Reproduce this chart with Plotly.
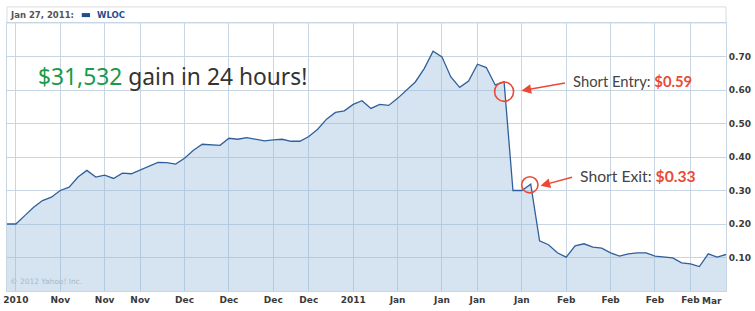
import plotly.graph_objects as go

# ---- data (trading days, WLOC close) ----
dates = [
    "2010-11-05", "2010-11-08", "2010-11-09", "2010-11-10", "2010-11-11", "2010-11-12",
    "2010-11-15", "2010-11-16", "2010-11-17", "2010-11-18", "2010-11-19",
    "2010-11-22", "2010-11-23", "2010-11-24", "2010-11-26",
    "2010-11-29", "2010-11-30", "2010-12-01", "2010-12-02", "2010-12-03",
    "2010-12-06", "2010-12-07", "2010-12-08", "2010-12-09", "2010-12-10",
    "2010-12-13", "2010-12-14", "2010-12-15", "2010-12-16", "2010-12-17",
    "2010-12-20", "2010-12-21", "2010-12-22", "2010-12-23",
    "2010-12-27", "2010-12-28", "2010-12-29", "2010-12-30", "2010-12-31",
    "2011-01-03", "2011-01-04", "2011-01-05", "2011-01-06", "2011-01-07",
    "2011-01-10", "2011-01-11", "2011-01-12", "2011-01-13", "2011-01-14",
    "2011-01-18", "2011-01-19", "2011-01-20", "2011-01-21",
    "2011-01-24", "2011-01-25", "2011-01-26", "2011-01-27", "2011-01-28",
    "2011-01-31", "2011-02-01", "2011-02-02", "2011-02-03", "2011-02-04",
    "2011-02-07", "2011-02-08", "2011-02-09", "2011-02-10", "2011-02-11",
    "2011-02-14", "2011-02-15", "2011-02-16", "2011-02-17", "2011-02-18",
    "2011-02-22", "2011-02-23", "2011-02-24", "2011-02-25",
    "2011-02-28", "2011-03-01", "2011-03-02", "2011-03-03", "2011-03-04",
]
prices = [
    0.200, 0.200, 0.225, 0.250, 0.270, 0.280,
    0.300, 0.310, 0.340, 0.360, 0.340,
    0.346, 0.336, 0.352, 0.350,
    0.362, 0.374, 0.384, 0.383, 0.379,
    0.396, 0.420, 0.438, 0.436, 0.435,
    0.456, 0.453, 0.458, 0.453, 0.448,
    0.451, 0.453, 0.447, 0.447,
    0.461, 0.483, 0.513, 0.533, 0.538,
    0.557, 0.568, 0.545, 0.557, 0.554,
    0.575, 0.600, 0.624, 0.664, 0.716,
    0.699, 0.639, 0.608, 0.627,
    0.677, 0.667, 0.615, 0.624, 0.300,
    0.300, 0.319, 0.150, 0.138, 0.114,
    0.101, 0.135, 0.141, 0.131, 0.128,
    0.114, 0.104, 0.111, 0.114, 0.114,
    0.104, 0.102, 0.099, 0.084,
    0.081, 0.073, 0.111, 0.101, 0.109,
]
tick_dates = [
    "2010-11-08", "2010-11-15", "2010-11-22", "2010-11-29", "2010-12-06",
    "2010-12-13", "2010-12-20", "2010-12-27", "2011-01-03", "2011-01-10",
    "2011-01-18", "2011-01-24", "2011-01-31", "2011-02-07", "2011-02-14",
    "2011-02-22", "2011-02-28",
]
tick_text = ["2010", "Nov", "Nov", "Nov", "Dec", "Dec", "Dec", "Dec", "2011",
             "Jan", "Jan", "Jan", "Jan", "Feb", "Feb", "Feb", "Feb"]
y_ticks = [0.1, 0.2, 0.3, 0.4, 0.5, 0.6, 0.7]

entry_date, entry_price = "2011-01-27", 0.595
exit_date, exit_price = "2011-02-01", 0.317

GRID = "#c8d6e3"
LINE = "#2f609a"
FILL = "rgba(150,187,217,0.4)"
RED = "#ea4a35"
AXFONT = dict(family="DejaVu Sans", size=9, color="#3a3a3a")

fig = go.Figure()
fig.add_trace(go.Scatter(
    x=dates, y=prices, mode="lines", fill="tozeroy",
    line=dict(color=LINE, width=1.3), fillcolor=FILL,
    hoverinfo="skip", showlegend=False,
))

idx = {d: i for i, d in enumerate(dates)}
ei, xi = idx[entry_date], idx[exit_date] - 0.1

shapes = [
    # header strip
    dict(type="rect", xref="paper", yref="paper", x0=0, x1=1, y0=1, y1=1.06,
         line=dict(color="#dcdcdc", width=1), fillcolor="white", layer="below"),
    # legend swatch
    dict(type="rect", xref="paper", yref="paper", x0=0.104, x1=0.1155,
         y0=1.022, y1=1.037, line=dict(width=0), fillcolor="#1f4f8e"),
    # circles
    dict(type="circle", xref="x", yref="y", x0=ei - 1.07, x1=ei + 1.07,
         y0=entry_price - 0.029, y1=entry_price + 0.029,
         line=dict(color=RED, width=1.6)),
    dict(type="circle", xref="x", yref="y", x0=xi - 0.92, x1=xi + 0.92,
         y0=exit_price - 0.024, y1=exit_price + 0.024,
         line=dict(color=RED, width=1.6)),
]

annotations = [
    dict(xref="paper", yref="paper", x=0.0015, y=1.031, xanchor="left", yanchor="middle",
         text="<b>Jan 27, 2011:</b>", showarrow=False,
         font=dict(family="DejaVu Sans", size=8.5, color="#555555")),
    dict(xref="paper", yref="paper", x=0.122, y=1.031, xanchor="left", yanchor="middle",
         text="<b>WLOC</b>", showarrow=False,
         font=dict(family="DejaVu Sans", size=8.5, color="#1f4f8e")),
    dict(xref="paper", yref="paper", x=0.002, y=0.012, xanchor="left", yanchor="bottom",
         text="© 2012 Yahoo! Inc.", showarrow=False,
         font=dict(family="DejaVu Sans", size=7.5, color="#aab8c4")),
    dict(xref="x", yref="paper", x=79.4, y=0, xanchor="center", yanchor="top", yshift=-3,
         text="<b>Mar</b>", showarrow=False, font=AXFONT),
    dict(xref="paper", yref="paper", x=0.040, y=0.80, xanchor="left", yanchor="middle",
         text="<span style='color:#1a9a4b'>$31,532</span> gain in 24 hours!",
         showarrow=False, font=dict(family="Noto Sans", size=22.8, color="#333333")),
    dict(xref="paper", yref="paper", x=0.784, y=0.784, xanchor="left", yanchor="middle",
         text="Short Entry: <b><span style='color:#ea4a35'>$0.59</span></b>",
         showarrow=False, font=dict(family="Lato", size=14.8, color="#444444")),
    dict(xref="paper", yref="paper", x=0.794, y=0.43, xanchor="left", yanchor="middle",
         text="Short Exit: <b><span style='color:#ea4a35'>$0.33</span></b>",
         showarrow=False, font=dict(family="Lato", size=15.7, color="#444444")),
    # arrows
    dict(xref="x", yref="y", x=ei + 1.95, y=0.598, ax=45, ay=-8, text="",
         showarrow=True, arrowhead=2, arrowsize=1.3, arrowwidth=1.5, arrowcolor=RED),
    dict(xref="x", yref="y", x=xi + 1.2, y=0.314, ax=33, ay=-9, text="",
         showarrow=True, arrowhead=2, arrowsize=1.3, arrowwidth=1.5, arrowcolor=RED),
]

fig.update_layout(
    width=755, height=311,
    margin=dict(l=7, r=29, t=23, b=20, autoexpand=False),
    paper_bgcolor="white", plot_bgcolor="white",
    shapes=shapes, annotations=annotations,
    xaxis=dict(
        type="category", range=[0, len(dates) - 1], automargin=False,
        tickmode="array", tickvals=tick_dates, ticktext=[f"<b>{t}</b>" for t in tick_text],
        showgrid=True, gridcolor=GRID, gridwidth=1,
        showline=True, linecolor=GRID, mirror=True,
        ticks="", tickfont=AXFONT, zeroline=False, tickangle=0,
    ),
    yaxis=dict(
        side="right", range=[0, 0.8], automargin=False,
        tickmode="array", tickvals=y_ticks,
        ticktext=[f"<b>{v:.2f}</b>" for v in y_ticks],
        showgrid=True, gridcolor=GRID, gridwidth=1,
        showline=True, linecolor=GRID, mirror=True,
        ticks="", tickfont=AXFONT, zeroline=False,
    ),
)

fig.write_html("out.html")
